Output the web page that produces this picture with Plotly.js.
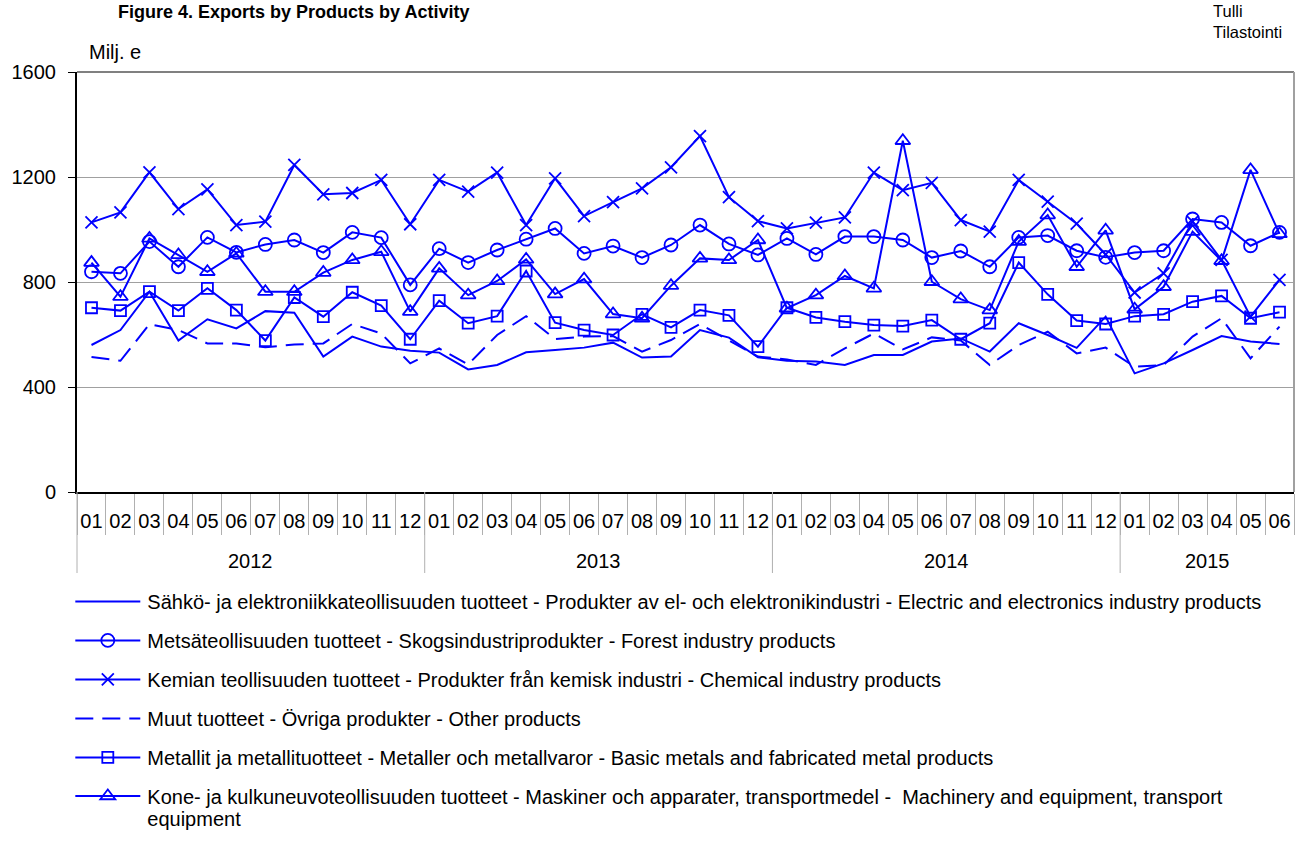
<!DOCTYPE html>
<html>
<head>
<meta charset="utf-8">
<script src="https://cdn.plot.ly/plotly-3.0.1.min.js"></script>
<style>
html,body{margin:0;padding:0;background:#fff;}
#chart{width:1305px;height:841px;}
</style>
</head>
<body>
<div id="chart"></div>
<script>
var years = ['2012','2013','2014','2015'];
var monthsPerYear = [12,12,12,6];
var monthLabels = ['01','02','03','04','05','06','07','08','09','10','11','12'];

var seriesNames = [
  'Sähkö- ja elektroniikkateollisuuden tuotteet - Produkter av el- och elektronikindustri - Electric and electronics industry products',
  'Metsäteollisuuden tuotteet - Skogsindustriprodukter - Forest industry products',
  'Kemian teollisuuden tuotteet - Produkter från kemisk industri - Chemical industry products',
  'Muut tuotteet - Övriga produkter - Other products',
  'Metallit ja metallituotteet - Metaller och metallvaror - Basic metals and fabricated metal products',
  'Kone- ja kulkuneuvoteollisuuden tuotteet - Maskiner och apparater, transportmedel -  Machinery and equipment, transport<br>equipment'
];

var electric = [560,617,763,577,658,623,689,683,516,592,554,538,
                531,467,484,532,541,550,569,512,516,617,588,513,
                500,497,484,522,522,573,585,535,643,598,549,668,
                452,490,541,594,573,564];
var forest = [839,833,954,858,970,913,943,960,912,989,969,789,
              927,874,922,963,1004,909,937,893,941,1017,945,903,
              966,905,973,973,960,893,918,858,970,977,919,894,
              912,919,1040,1027,938,989];
var chemical = [1027,1065,1218,1078,1153,1017,1030,1246,1134,1139,1189,1020,
                1189,1144,1217,1017,1195,1051,1104,1157,1237,1356,1123,1032,
                1004,1026,1046,1217,1150,1178,1036,992,1189,1106,1022,905,
                760,833,1030,884,668,808];
var other = [514,500,639,617,566,566,551,562,566,640,604,490,
             547,486,598,670,583,592,594,535,579,640,577,516,
             505,484,547,604,543,589,577,484,560,611,528,550,
             477,484,592,662,509,630];
var metals = [702,691,763,691,776,693,577,741,668,761,710,582,
              729,643,670,842,645,617,598,677,627,693,673,554,
              702,665,649,636,632,655,582,643,874,753,653,640,
              670,677,725,747,662,685];
var machinery = [874,744,966,903,839,909,763,763,836,884,915,687,
                 852,750,804,886,754,811,678,662,786,890,884,960,
                 700,750,823,776,1338,801,735,693,954,1055,858,997,
                 696,782,992,881,1227,983];

// Build category keys (year-month) and month tick labels from the small arrays
var xCats = [], xTickText = [];
var yearStart = [], yearEnd = [];
for (var y = 0; y < years.length; y++) {
  yearStart.push(xCats.length);
  for (var m = 0; m < monthsPerYear[y]; m++) {
    xCats.push(years[y] + '-' + monthLabels[m]);
    xTickText.push(monthLabels[m]);
  }
  yearEnd.push(xCats.length - 1);
}

var blue = '#0000ff';
var seriesValues = [electric, forest, chemical, other, metals, machinery];
var symbols = [null, 'circle-open', 'x-thin-open', null, 'square-open', 'triangle-up-open'];
var sizes = [0, 13, 12, 0, 11, 13];
var dashes = ['solid','solid','solid','18px,9px','solid','solid'];

var traces = seriesValues.map(function(vals, i){
  var t = {
    type: 'scatter',
    x: xCats,
    y: vals,
    name: seriesNames[i],
    legendgroup: 'g' + i,
    line: {color: blue, width: 2, dash: dashes[i]},
    hoverinfo: 'y+name'
  };
  if (symbols[i]) {
    t.mode = 'lines+markers';
    t.marker = {symbol: symbols[i], size: sizes[i], color: blue, line: {color: blue, width: 1.8}};
  } else {
    t.mode = 'lines';
  }
  return t;
});

var plotH = 420;
var shapes = [
  {type: 'line', xref: 'paper', yref: 'paper', x0: 0, x1: 1, y0: 1, y1: 1, line: {color: '#808080', width: 2}},
  {type: 'line', xref: 'paper', yref: 'paper', x0: 1, x1: 1, y0: 0, y1: 1, line: {color: '#a0a0a0', width: 2}}
];
// year group dividers below the month labels
shapes.push({type: 'line', xref: 'paper', yref: 'paper', x0: 0, x1: 0, y0: 0, y1: -81/plotH, line: {color: '#b0b0b0', width: 1}});
for (var k = 0; k < years.length - 1; k++) {
  shapes.push({type: 'line', xref: 'x', yref: 'paper', x0: yearEnd[k] + 0.5, x1: yearEnd[k] + 0.5, y0: 0, y1: -81/plotH, line: {color: '#b0b0b0', width: 1}});
}

var annotations = [
  {text: 'Milj. e', xref: 'paper', yref: 'paper', x: 10/1217, y: 1 + 20/plotH, xanchor: 'left', yanchor: 'middle', showarrow: false, font: {size: 20}},
  {text: 'Tulli<br>Tilastointi', align: 'left', xref: 'paper', yref: 'paper', x: (1211-77)/1217, y: 1 + 50/plotH, xanchor: 'left', yanchor: 'middle', showarrow: false, font: {size: 16.5}}
];
for (var k2 = 0; k2 < years.length; k2++) {
  annotations.push({text: years[k2], xref: 'x', yref: 'paper', x: (yearStart[k2] + yearEnd[k2]) / 2, y: -69/plotH,
    xanchor: 'center', yanchor: 'middle', showarrow: false, font: {size: 20}});
}

var layout = {
  width: 1305,
  height: 841,
  paper_bgcolor: '#ffffff',
  plot_bgcolor: '#ffffff',
  font: {family: 'Arial, "Liberation Sans", sans-serif', size: 20, color: '#000000'},
  margin: {l: 77, r: 11, t: 72, b: 349, autoexpand: false},
  title: {
    text: '<b>Figure 4. Exports by Products by Activity</b>',
    font: {size: 18, color: '#000000'},
    xref: 'container', x: 118/1305, xanchor: 'left',
    yref: 'container', y: 1 - 12/841, yanchor: 'middle'
  },
  xaxis: {
    type: 'category',
    tickmode: 'array', tickvals: xCats, ticktext: xTickText,
    showline: true, linecolor: '#000000', linewidth: 2,
    showgrid: false, zeroline: false,
    ticks: 'outside', tickson: 'boundaries', ticklen: 41, tickcolor: '#b0b0b0', tickwidth: 1,
    ticklabelstandoff: 10,
    tickangle: 0,
    tickfont: {size: 20, color: '#000000'},
    range: [-0.5, 41.5]
  },
  yaxis: {
    range: [0, 1600],
    tickvals: [0, 400, 800, 1200, 1600],
    ticktext: ['0','400','800','1200','1600'],
    showgrid: true, gridcolor: '#a0a0a0', gridwidth: 1,
    zeroline: false,
    showline: true, linecolor: '#000000', linewidth: 2,
    ticks: 'outside', ticklen: 7, tickcolor: '#000000', tickwidth: 1,
    ticklabelstandoff: 8,
    tickfont: {size: 20, color: '#000000'}
  },
  shapes: shapes,
  annotations: annotations,
  showlegend: true,
  legend: {
    orientation: 'v',
    x: -0.0055, xanchor: 'left',
    y: -0.214, yanchor: 'top',
    font: {size: 20, color: '#000000'},
    tracegroupgap: 10,
    itemwidth: 67,
    bgcolor: 'rgba(0,0,0,0)'
  },
  hovermode: 'closest'
};

function cy(el){ var r = el.getBoundingClientRect(); return r.top + r.height / 2; }
var TR = /translate\(\s*([-\d.e]+)[ ,]+([-\d.e]+)\s*\)/;

Plotly.newPlot('chart', traces, layout, {displayModeBar: false, responsive: false}).then(function(gd){
  var items = gd.querySelectorAll('.legend .traces');
  items.forEach(function(it){
    // widen the legend sample lines to match the reference
    it.querySelectorAll('path.js-line').forEach(function(p){ p.setAttribute('d', 'M5,0h65'); });
    it.querySelectorAll('.legendpoints path.scatterpts').forEach(function(p){ p.setAttribute('transform', 'translate(37.5,0)'); });
  });
  try {
    var n = items.length;
    var last = items[n - 1], prev = items[n - 2];
    var txt = last.querySelector('text.legendtext');
    var lines = txt.querySelectorAll('tspan.line');
    if (lines.length > 1) {
      // keep row spacing regular
      var prevLine = prev.querySelector('path.js-line');
      var lastLine = last.querySelector('path.js-line');
      var dItem = (cy(prevLine) + 38.6) - cy(lastLine);
      var mt = TR.exec(last.getAttribute('transform') || '');
      if (mt) last.setAttribute('transform', 'translate(' + mt[1] + ',' + (parseFloat(mt[2]) + dItem) + ')');
      // slightly tighter wrap (line tspans share y; dy is measured from it)
      lines[0].setAttribute('dy', '0em');
      lines[1].setAttribute('dy', '1.1em');
      // put the first line level with the symbol, like the single-line rows
      var pTxt = prev.querySelector('text.legendtext');
      var topOff = pTxt.getBoundingClientRect().top - cy(prevLine);
      var shift = (cy(lastLine) + topOff) - txt.getBoundingClientRect().top;
      var ty = parseFloat(txt.getAttribute('y') || '0') + shift;
      txt.setAttribute('y', ty);
      lines.forEach(function(l){ l.setAttribute('y', ty); });
    }
  } catch (e) {}
});
</script>
</body>
</html>
